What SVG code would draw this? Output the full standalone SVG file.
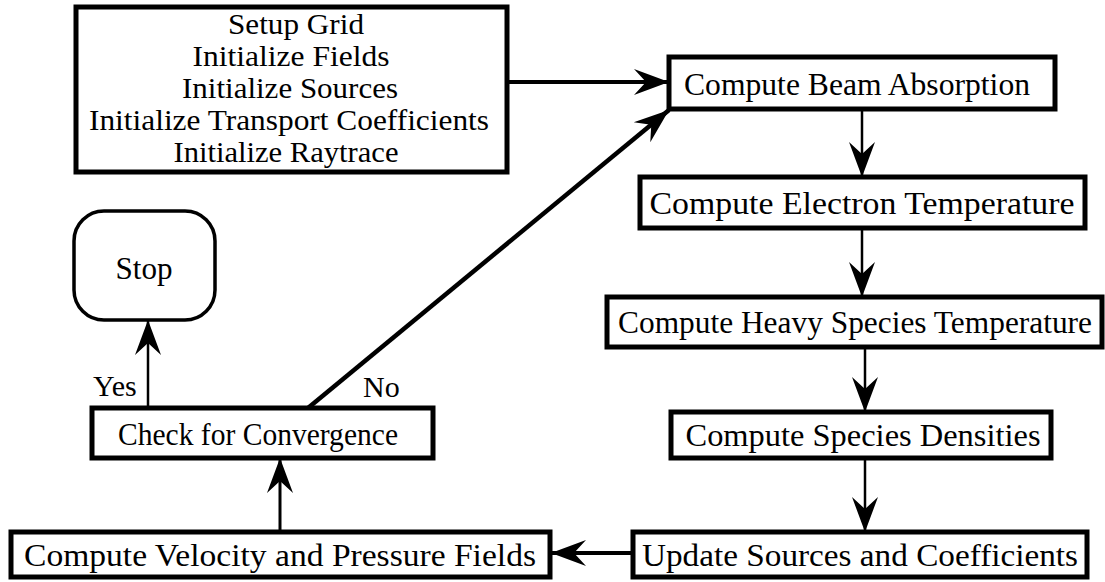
<svg xmlns="http://www.w3.org/2000/svg" width="1105" height="582" viewBox="0 0 1105 582">
<style>
.box{fill:#fff;stroke:#000;stroke-width:5}
.t{font-family:"Liberation Serif","Times New Roman",serif;font-size:32px;fill:#000;text-anchor:middle}
.ti{font-family:"Liberation Serif","Times New Roman",serif;font-size:28.5px;fill:#000;text-anchor:middle}
.lab{font-family:"Liberation Serif","Times New Roman",serif;font-size:30px;fill:#000}
.c{fill:none;stroke:#000}
</style>
<defs>
<marker id="ah" viewBox="0 -15 40 30" markerWidth="40" markerHeight="30" refX="35" refY="0" orient="auto" markerUnits="userSpaceOnUse">
<path d="M35,0 L0,-13 L12,0 L0,13 Z" fill="#000"/>
</marker>
</defs>
<rect width="1105" height="582" fill="#fff"/>
<g id="connectors">
<line class="c" x1="507" y1="82" x2="669" y2="82" stroke-width="4" marker-end="url(#ah)"/>
<line class="c" x1="308" y1="408" x2="669" y2="110" stroke-width="4.5" marker-end="url(#ah)"/>
<line class="c" x1="862" y1="109" x2="862" y2="177" stroke-width="2.5" marker-end="url(#ah)"/>
<line class="c" x1="862" y1="228" x2="862" y2="297" stroke-width="2.5" marker-end="url(#ah)"/>
<line class="c" x1="865" y1="347" x2="865" y2="412" stroke-width="2.5" marker-end="url(#ah)"/>
<line class="c" x1="865" y1="458" x2="865" y2="532" stroke-width="2.5" marker-end="url(#ah)"/>
<line class="c" x1="633" y1="553" x2="551" y2="553" stroke-width="4" marker-end="url(#ah)"/>
<line class="c" x1="280" y1="532" x2="280" y2="458" stroke-width="3" marker-end="url(#ah)"/>
<line class="c" x1="148" y1="408" x2="148" y2="320" stroke-width="2.5" marker-end="url(#ah)"/>
<text class="lab" x="93" y="396">Yes</text>
<text class="lab" x="363" y="397">No</text>
</g>
<g id="init">
<rect class="box" x="76" y="7" width="431" height="165"/>
<text class="ti" x="296" y="34" textLength="136" lengthAdjust="spacingAndGlyphs">Setup Grid</text>
<text class="ti" x="291" y="66" textLength="197" lengthAdjust="spacingAndGlyphs">Initialize Fields</text>
<text class="ti" x="290" y="98" textLength="216" lengthAdjust="spacingAndGlyphs">Initialize Sources</text>
<text class="ti" x="289" y="130" textLength="400" lengthAdjust="spacingAndGlyphs">Initialize Transport Coefficients</text>
<text class="ti" x="286" y="162" textLength="225" lengthAdjust="spacingAndGlyphs">Initialize Raytrace</text>
</g>
<g id="beam">
<rect class="box" x="669" y="57" width="386" height="52"/>
<text class="t" x="857" y="95" textLength="346" lengthAdjust="spacingAndGlyphs">Compute Beam Absorption</text>
</g>
<g id="electron">
<rect class="box" x="640" y="177" width="445" height="51"/>
<text class="t" x="862" y="214" textLength="425" lengthAdjust="spacingAndGlyphs">Compute Electron Temperature</text>
</g>
<g id="heavy">
<rect class="box" x="607" y="297" width="495" height="50"/>
<text class="t" x="855" y="333" textLength="474" lengthAdjust="spacingAndGlyphs">Compute Heavy Species Temperature</text>
</g>
<g id="species">
<rect class="box" x="671" y="412" width="380" height="46"/>
<text class="t" x="863" y="446" textLength="355" lengthAdjust="spacingAndGlyphs">Compute Species Densities</text>
</g>
<g id="update">
<rect class="box" x="633" y="532" width="454" height="45"/>
<text class="t" x="860" y="566" textLength="436" lengthAdjust="spacingAndGlyphs">Update Sources and Coefficients</text>
</g>
<g id="velocity">
<rect class="box" x="11" y="532" width="539" height="45"/>
<text class="t" x="280" y="566" textLength="512" lengthAdjust="spacingAndGlyphs">Compute Velocity and Pressure Fields</text>
</g>
<g id="check">
<rect class="box" x="92" y="408" width="341" height="50"/>
<text class="t" x="258" y="445" textLength="280" lengthAdjust="spacingAndGlyphs">Check for Convergence</text>
</g>
<g id="stop">
<rect x="74" y="211" width="141" height="109" rx="30" ry="30" fill="#fff" stroke="#000" stroke-width="3.5"/>
<text class="t" x="144" y="279" textLength="57" lengthAdjust="spacingAndGlyphs">Stop</text>
</g>
</svg>
